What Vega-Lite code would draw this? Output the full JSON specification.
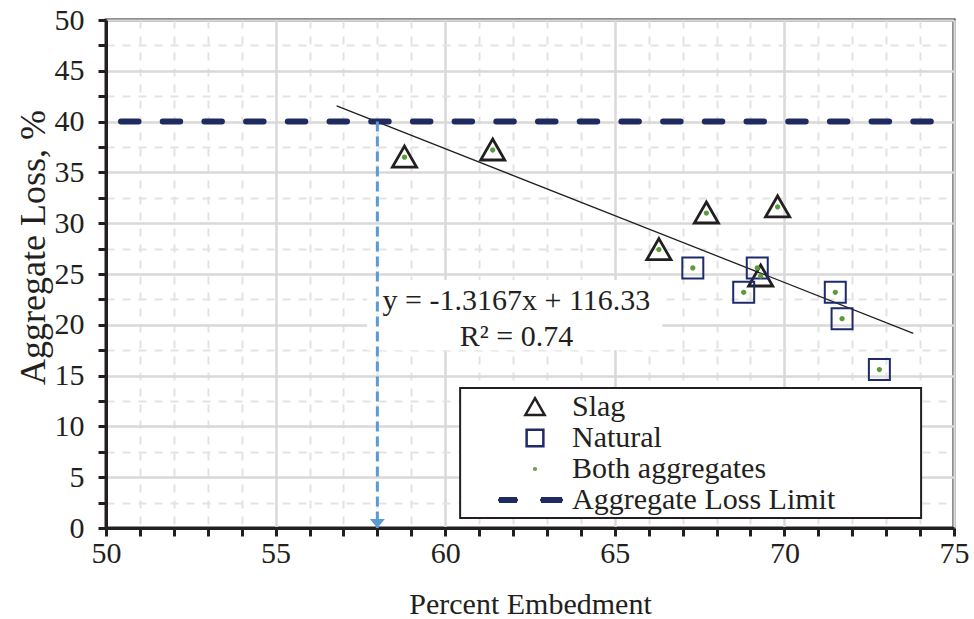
{
  "$schema": "https://vega.github.io/schema/vega-lite/v6.json",
  "width": 848,
  "height": 508,
  "autosize": "none",
  "padding": {"left": 106, "top": 20, "right": 20, "bottom": 91},
  "background": "white",
  "config": {
    "font": "Liberation Serif",
    "view": {"stroke": "#231f20", "strokeWidth": 3},
    "axis": {
      "labelFont": "Liberation Serif", "titleFont": "Liberation Serif",
      "labelFontSize": 30, "titleFontSize": 30, "titleFontWeight": "normal",
      "labelColor": "#231f20", "titleColor": "#231f20",
      "domainColor": "#231f20", "domainWidth": 3,
      "tickColor": "#231f20", "tickWidth": 3, "tickSize": 8,
      "labelOverlap": false, "labelFlush": false
    },
    "legend": {
      "labelFont": "Liberation Serif", "labelFontSize": 30, "labelColor": "#231f20", "labelLimit": 500,
      "symbolSize": 280, "symbolStrokeWidth": 2.5,
      "rowPadding": 1, "padding": 4,
      "labelOffset": 22, "symbolOffset": 56
    }
  },
  "datasets": {
    "points": [
      {"x": 58.8, "y": 36.5, "type": "Slag"},
      {"x": 61.4, "y": 37.2, "type": "Slag"},
      {"x": 66.3, "y": 27.4, "type": "Slag"},
      {"x": 67.7, "y": 31.0, "type": "Slag"},
      {"x": 69.8, "y": 31.6, "type": "Slag"},
      {"x": 69.3, "y": 24.8, "type": "Slag"},
      {"x": 67.3, "y": 25.6, "type": "Natural"},
      {"x": 68.8, "y": 23.2, "type": "Natural"},
      {"x": 69.2, "y": 25.6, "type": "Natural"},
      {"x": 71.5, "y": 23.2, "type": "Natural"},
      {"x": 71.7, "y": 20.6, "type": "Natural"},
      {"x": 72.8, "y": 15.6, "type": "Natural"}
    ],
    "trend": [{"x": 56.8, "y": 41.54}, {"x": 73.8, "y": 19.16}],
    "limit": [{"x": 50, "x2": 75, "y": 40}],
    "arrow": [{"x": 58, "y": 40, "y2": 0}],
    "arrowhead": [{"x": 58, "y": 0}],
    "notebox": [{"x": 57.7, "x2": 66.4, "y": 17.5, "y2": 24.4}],
    "legendbox": [{"x": 60.44, "x2": 74.03, "y": 0.98, "y2": 13.78}],
    "note": [
      {"x": 62.1, "y": 22.3, "text": "y = -1.3167x + 116.33"},
      {"x": 62.1, "y": 18.8, "text": "R² = 0.74"}
    ]
  },
  "layer": [
    {
      "data": {"name": "notebox"},
      "mark": {"type": "rect", "color": "white"},
      "encoding": {
        "x": {
          "field": "x", "type": "quantitative",
          "scale": {"domain": [50, 75], "nice": false, "zero": false},
          "axis": {
            "title": "Percent Embedment",
            "values": [50,51,52,53,54,55,56,57,58,59,60,61,62,63,64,65,66,67,68,69,70,71,72,73,74,75],
            "tickCount": 200,
            "format": "d",
            "labelOverlap": false,
            "labelExpr": "datum.value % 5 === 0 ? datum.label : ''",
            "labelPadding": 2,
            "grid": true,
            "gridColor": {"condition": {"test": "datum.value % 5 === 0", "value": "#d9d9d9"}, "value": "#e3e3e3"},
            "gridDash": {"condition": {"test": "datum.value % 5 === 0", "value": []}, "value": [8, 8]},
            "gridWidth": {"condition": {"test": "datum.value % 5 === 0", "value": 2.5}, "value": 2},
            "titleY": 85, "titleBaseline": "alphabetic"
          }
        },
        "x2": {"field": "x2"},
        "y": {
          "field": "y", "type": "quantitative",
          "scale": {"domain": [0, 50], "nice": false, "zero": false},
          "axis": {
            "title": "Aggregate Loss, %",
            "values": [0,2.5,5,7.5,10,12.5,15,17.5,20,22.5,25,27.5,30,32.5,35,37.5,40,42.5,45,47.5,50],
            "tickCount": 200,
            "format": "d",
            "labelOverlap": false,
            "labelExpr": "datum.value % 5 === 0 ? datum.label : ''",
            "labelPadding": 14,
            "grid": true,
            "gridColor": {"condition": {"test": "datum.value % 5 === 0", "value": "#d9d9d9"}, "value": "#e3e3e3"},
            "gridDash": {"condition": {"test": "datum.value % 5 === 0", "value": []}, "value": [8, 8]},
            "gridWidth": {"condition": {"test": "datum.value % 5 === 0", "value": 2.5}, "value": 2},
            "titleFontSize": 36,
            "titleX": -62, "titleY": 227, "titleBaseline": "alphabetic"
          }
        },
        "y2": {"field": "y2"}
      }
    },
    {
      "data": {"name": "legendbox"},
      "mark": {"type": "rect", "fill": "white", "stroke": "#231f20", "strokeWidth": 2},
      "encoding": {
        "x": {"field": "x", "type": "quantitative"},
        "x2": {"field": "x2"},
        "y": {"field": "y", "type": "quantitative"},
        "y2": {"field": "y2"}
      }
    },
    {
      "data": {"name": "trend"},
      "mark": {"type": "line", "color": "#231f20", "strokeWidth": 1.3},
      "encoding": {
        "x": {"field": "x", "type": "quantitative"},
        "y": {"field": "y", "type": "quantitative"}
      }
    },
    {
      "data": {"name": "limit"},
      "mark": {"type": "rule", "color": "#1f2b5f", "strokeWidth": 6, "strokeDash": [17.5, 24.2], "strokeDashOffset": 26.7, "strokeCap": "round"},
      "encoding": {
        "x": {"field": "x", "type": "quantitative"},
        "x2": {"field": "x2"},
        "y": {"field": "y", "type": "quantitative"}
      }
    },
    {
      "data": {"name": "arrow"},
      "mark": {"type": "rule", "color": "#5b9bd5", "strokeWidth": 3, "strokeDash": [10, 5]},
      "encoding": {
        "x": {"field": "x", "type": "quantitative"},
        "y": {"field": "y", "type": "quantitative"},
        "y2": {"field": "y2"}
      }
    },
    {
      "data": {"name": "arrowhead"},
      "mark": {"type": "point", "shape": "M-1,-1.2L1,-1.2L0,0Z", "filled": true, "color": "#5b9bd5", "size": 225, "opacity": 1},
      "encoding": {
        "x": {"field": "x", "type": "quantitative"},
        "y": {"field": "y", "type": "quantitative"}
      }
    },
    {
      "data": {"name": "note"},
      "mark": {"type": "text", "font": "Liberation Serif", "fontSize": 30, "color": "#231f20", "align": "center", "baseline": "middle"},
      "encoding": {
        "x": {"field": "x", "type": "quantitative"},
        "y": {"field": "y", "type": "quantitative"},
        "text": {"field": "text"}
      }
    },
    {
      "data": {"name": "points"},
      "mark": {"type": "point", "filled": false, "size": 440, "opacity": 1},
      "encoding": {
        "x": {"field": "x", "type": "quantitative"},
        "y": {"field": "y", "type": "quantitative"},
        "strokeWidth": {"condition": {"test": "datum.type === 'Slag'", "value": 2.8}, "value": 2},
        "shape": {
          "field": "type", "type": "nominal",
          "scale": {
            "domain": ["Slag", "Natural", "Both aggregates", "Aggregate Loss Limit"],
            "range": [
              "M0,-1.05L1.15,0.95L-1.15,0.95Z",
              "M-1,-1L1,-1L1,1L-1,1Z",
              "M-0.1,0A0.1,0.1,0,1,0,0.1,0A0.1,0.1,0,1,0,-0.1,0Z",
              "M-4.3,-0.2L-2.15,-0.2M-4.42,0L-2.03,0M-4.3,0.2L-2.15,0.2M0.72,-0.2L3.23,-0.2M0.6,0L3.35,0M0.72,0.2L3.23,0.2"
            ]
          },
          "legend": {
            "orient": "none", "legendX": 354, "legendY": 368,
            "title": null
          }
        },
        "color": {
          "field": "type", "type": "nominal",
          "scale": {
            "domain": ["Slag", "Natural", "Both aggregates", "Aggregate Loss Limit"],
            "range": ["#231f20", "#1f2a6b", "#5b9b3a", "#1f2b5f"]
          },
          "legend": {
            "orient": "none", "legendX": 354, "legendY": 368,
            "title": null
          }
        }
      }
    },
    {
      "data": {"name": "points"},
      "mark": {"type": "point", "filled": true, "size": 440, "color": "#5b9b3a", "opacity": 1, "shape": "M-0.25,0A0.25,0.25,0,1,0,0.25,0A0.25,0.25,0,1,0,-0.25,0Z"},
      "encoding": {
        "x": {"field": "x", "type": "quantitative"},
        "y": {"field": "y", "type": "quantitative"}
      }
    }
  ]
}
